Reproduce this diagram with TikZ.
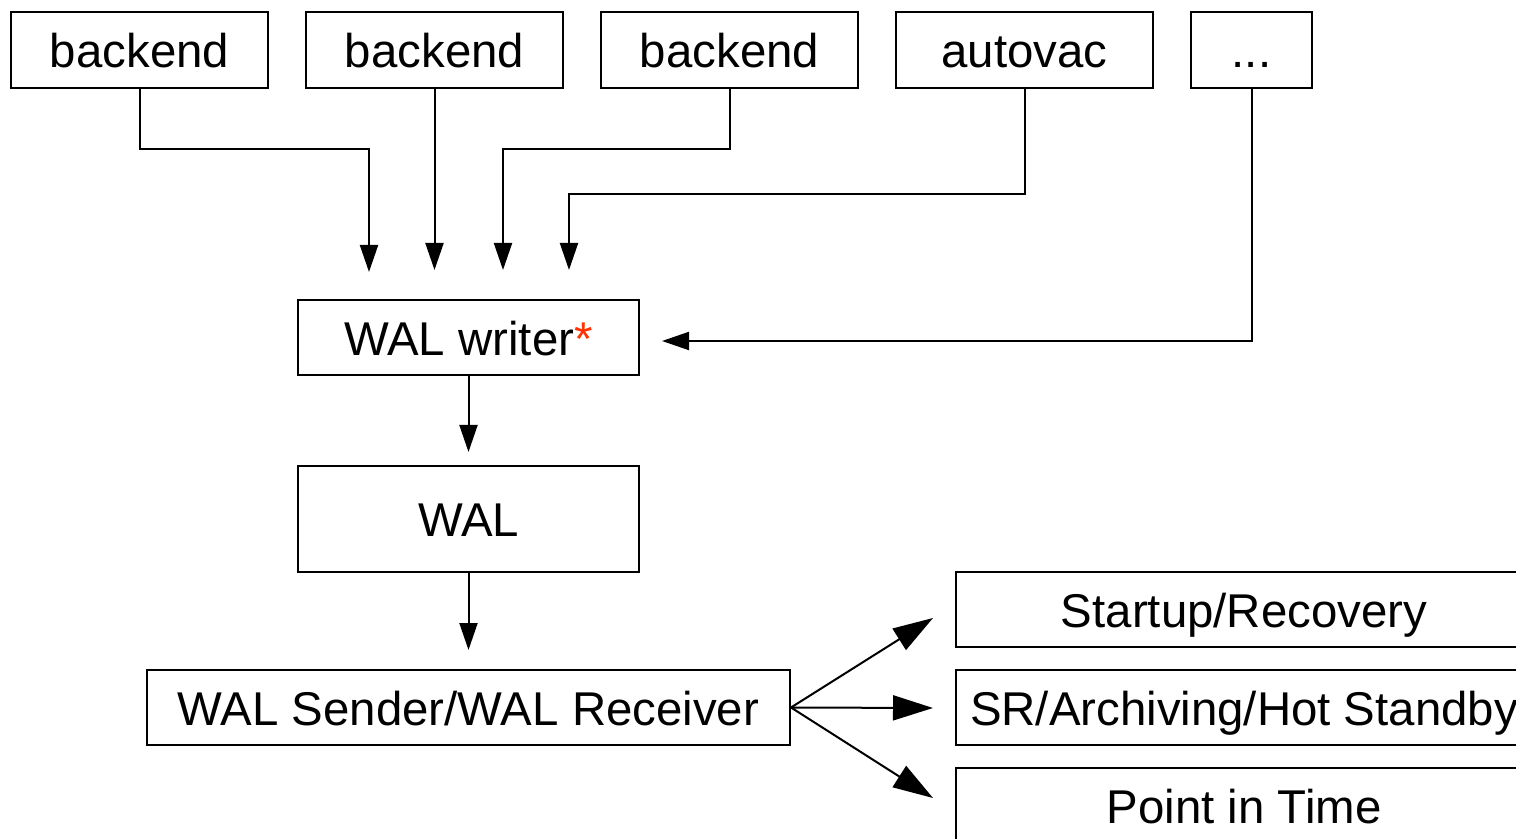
\documentclass[tikz,border=0pt]{standalone}
\usepackage{fontspec}
\setmainfont{Liberation Sans}
\usetikzlibrary{arrows.meta}
\definecolor{astred}{RGB}{255,51,0}
\begin{document}
\begin{tikzpicture}[x=0.5pt,y=-0.5pt,
  box/.style={draw,line width=1pt,inner sep=0pt,text height=22pt,text depth=4pt,
    font=\fontsize{23.7}{28}\selectfont},
  topbox/.style={box,minimum width=128.5pt,minimum height=38pt},
  midbox/.style={box,minimum width=170.5pt,minimum height=37.5pt},
  outbox/.style={box,minimum width=288pt,minimum height=37.5pt},
  conn/.style={line width=1pt,-{Triangle[length=13.5pt,width=9pt]}},
  bigconn/.style={line width=1pt,-{Triangle[length=20pt,width=12.5pt]}}]
\useasboundingbox (0,0) rectangle (1516,839);
\clip (0,0) rectangle (1516,839);
% top row
\node[topbox] (b1) at (139.5,50) {backend};
\node[topbox] (b2) at (434.5,50) {backend};
\node[topbox] (b3) at (729.5,50) {backend};
\node[topbox] (av) at (1024.5,50) {autovac};
\node[box,minimum width=60.5pt,minimum height=38pt] (dots) at (1251.5,50) {...};
% middle column
\node[midbox] (ww) at (468.5,337.5) {WAL writer\textcolor{astred}{*}};
\node[box,minimum width=170.5pt,minimum height=53pt] (wal) at (468.5,519) {WAL};
\node[box,minimum width=321.5pt,minimum height=37.5pt] (snd) at (468.5,707.5) {WAL Sender/WAL Receiver};
% outputs
\node[outbox] (rec) at (1244,609.5) {Startup/Recovery};
\node[outbox] (sr) at (1244,707.5) {SR/Archiving/Hot Standby};
\node[outbox] (pit) at (1244,805.5) {Point in Time};
% free arrow ends
\coordinate (t1) at (369,272);
\coordinate (t2) at (434.5,270);
\coordinate (t3) at (503,270);
\coordinate (t4) at (569,270);
\coordinate (t5) at (662,341);
\coordinate (t6) at (468.5,452);
\coordinate (t7) at (468.5,650);
\coordinate (t8) at (933,618);
\coordinate (t9) at (933,708);
\coordinate (t10) at (933,798);
% connectors
\draw[conn] (b1.south) -- ++(0,60) -| (t1);
\draw[conn] (b2.south) -- (t2);
\draw[conn] (b3.south) -- ++(0,60) -| (t3);
\draw[conn] (av.south) -- ++(0,105) -| (t4);
\draw[conn] (dots.south) |- (t5);
\draw[conn] (ww.south) -- (t6);
\draw[conn] (wal.south) -- (t7);
\draw[bigconn] (snd.east) -- (t8);
\draw[bigconn] (snd.east) -- (t9);
\draw[bigconn] (snd.east) -- (t10);
\end{tikzpicture}
\end{document}
